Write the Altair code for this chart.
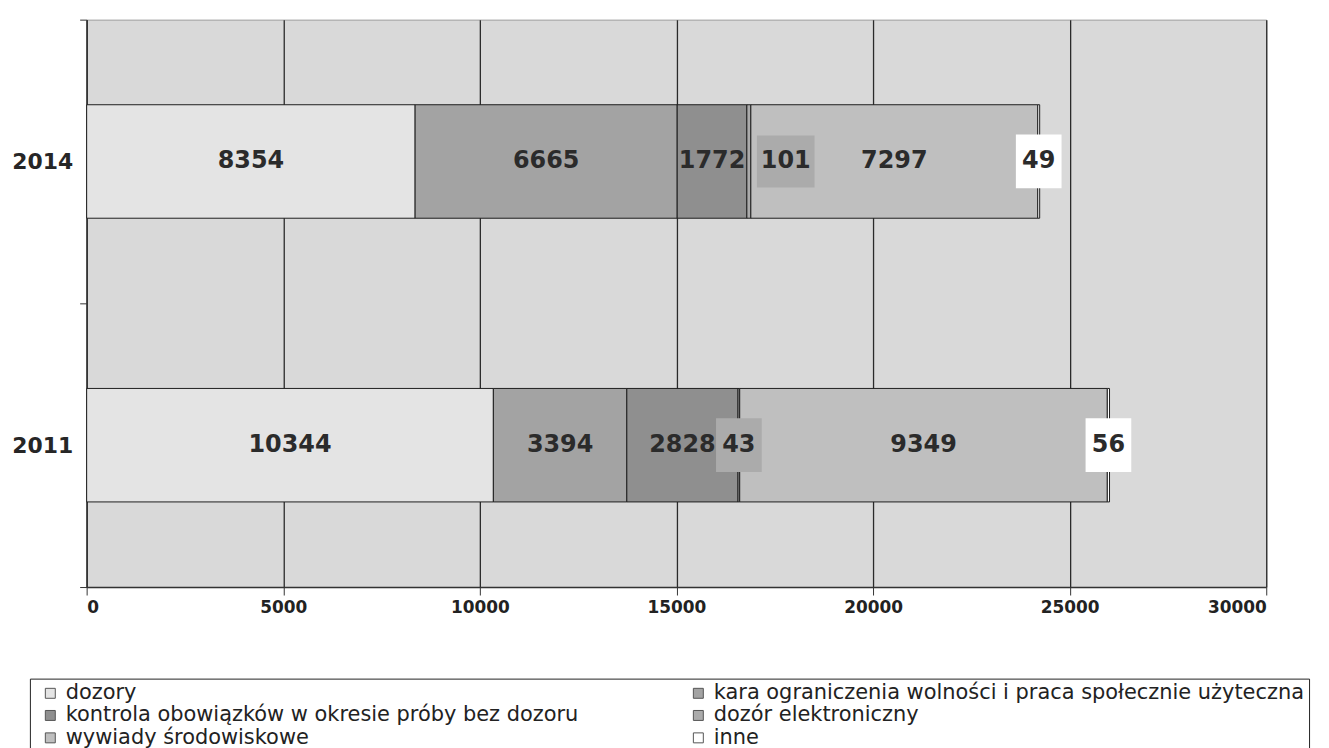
import altair as alt
import pandas as pd

years = ["2014", "2011"]
series = [
    "dozory",
    "kara ograniczenia wolności i praca społecznie użyteczna",
    "kontrola obowiązków w okresie próby bez dozoru",
    "dozór elektroniczny",
    "wywiady środowiskowe",
    "inne",
]
values_2014 = [8354, 6665, 1772, 101, 7297, 49]
values_2011 = [10344, 3394, 2828, 43, 9349, 56]
colors = ["#e4e4e4", "#a3a3a3", "#8f8f8f", "#ababab", "#bfbfbf", "#ffffff"]
x_ticks = [0, 5000, 10000, 15000, 20000, 25000, 30000]

rows = []
for year, vals in zip(years, [values_2014, values_2011]):
    start = 0
    for i, (s, v) in enumerate(zip(series, vals)):
        rows.append({"year": year, "series": s, "idx": i, "value": v,
                     "x0": start, "x1": start + v, "mid": start + v / 2.0,
                     "small": s in ("dozór elektroniczny", "inne"),
                     "shifted": (year == "2014" and s == "dozór elektroniczny")})
        start += v
df = pd.DataFrame(rows)

FONT = "DejaVu Sans"

xscale = alt.Scale(domain=[0, 30000], nice=False, zero=True)
yscale = alt.Scale(domain=years, paddingInner=0, paddingOuter=0)
cscale = alt.Scale(domain=series, range=colors)

xaxis = alt.Axis(values=x_ticks, title=None, grid=True, labelExpr="format(datum.value, 'd')",
                 labelFont=FONT, labelFontSize=17, labelFontWeight="bold", labelColor="#222",
                 labelPadding=5, gridColor="#2a2a2a", gridWidth=1.3, gridOpacity=1,
                 domainColor="#333", domainWidth=1.5, tickColor="#333", tickSize=8)
yaxis = alt.Axis(title=None, tickBand="extent", grid=False, domainColor="#333", domainWidth=1.5,
                 tickColor="#333", tickSize=7, labelFont=FONT, labelFontSize=22,
                 labelFontWeight="bold", labelColor="#262626", labelPadding=7)

base = alt.Chart(df)

bars = base.mark_bar(stroke="#1e1e1e", strokeWidth=1, opacity=1, height={"band": 0.4}).encode(
    x=alt.X("x0:Q", scale=xscale, axis=xaxis),
    x2="x1:Q",
    y=alt.Y("year:N", scale=yscale, sort=years, axis=yaxis),
    color=alt.Color("series:N", scale=cscale, sort=series,
                    legend=alt.Legend(title=None, orient="none", legendX=-57, legendY=662,
                                      direction="horizontal", columns=2, columnPadding=103,
                                      rowPadding=0.5,
                                      symbolType="square", symbolSize=100,
                                      symbolStrokeColor="#555", symbolStrokeWidth=1,
                                      labelFont=FONT, labelFontSize=21, labelColor="#222",
                                      labelLimit=800, padding=4, strokeColor="#222",
                                      fillColor="#ffffff", offset=0, symbolOffset=6,
                                      labelOffset=5)),
    order=alt.Order("idx:Q"),
)

box_a = base.transform_filter("datum.small && !datum.shifted").mark_point(
    shape="M-0.85,-1H0.85V1H-0.85Z", size=2916, filled=True, opacity=1, strokeWidth=0
).encode(
    x=alt.X("mid:Q", scale=xscale, axis=xaxis),
    y=alt.Y("year:N", scale=yscale, sort=years, axis=yaxis),
    color=alt.Color("series:N", scale=cscale, legend=None),
)

box_b = base.transform_filter("datum.shifted").mark_point(
    shape="M0.27,-0.87H2.2V0.87H0.27Z", size=3600, filled=True, opacity=1, strokeWidth=0
).encode(
    x=alt.X("mid:Q", scale=xscale, axis=xaxis),
    y=alt.Y("year:N", scale=yscale, sort=years, axis=yaxis),
    color=alt.Color("series:N", scale=cscale, legend=None),
)

labels = base.transform_filter("!datum.shifted").mark_text(
    font=FONT, fontSize=24, fontWeight="bold", color="#2b2b2b", baseline="middle", align="center"
).encode(
    x=alt.X("mid:Q", scale=xscale, axis=xaxis),
    y=alt.Y("year:N", scale=yscale, sort=years, axis=yaxis),
    text=alt.Text("value:Q", format="d"),
)

labels_b = base.transform_filter("datum.shifted").mark_text(
    font=FONT, fontSize=24, fontWeight="bold", color="#2b2b2b", baseline="middle", align="center", dx=37
).encode(
    x=alt.X("mid:Q", scale=xscale, axis=xaxis),
    y=alt.Y("year:N", scale=yscale, sort=years, axis=yaxis),
    text=alt.Text("value:Q", format="d"),
)

chart = alt.layer(bars, box_a, box_b, labels, labels_b).properties(
    width=1185, height=570,
    autosize=alt.AutoSizeParams(type="none"),
    padding={"left": 79, "top": 10, "right": 55, "bottom": 160},
    background="#ffffff",
).configure_view(
    fill="#d9d9d9", stroke="#9a9a9a", strokeWidth=1
).configure_axisX(
    labelFontSize=17
)

chart.save("out.html", embed_options={"renderer": "svg", "actions": False})
